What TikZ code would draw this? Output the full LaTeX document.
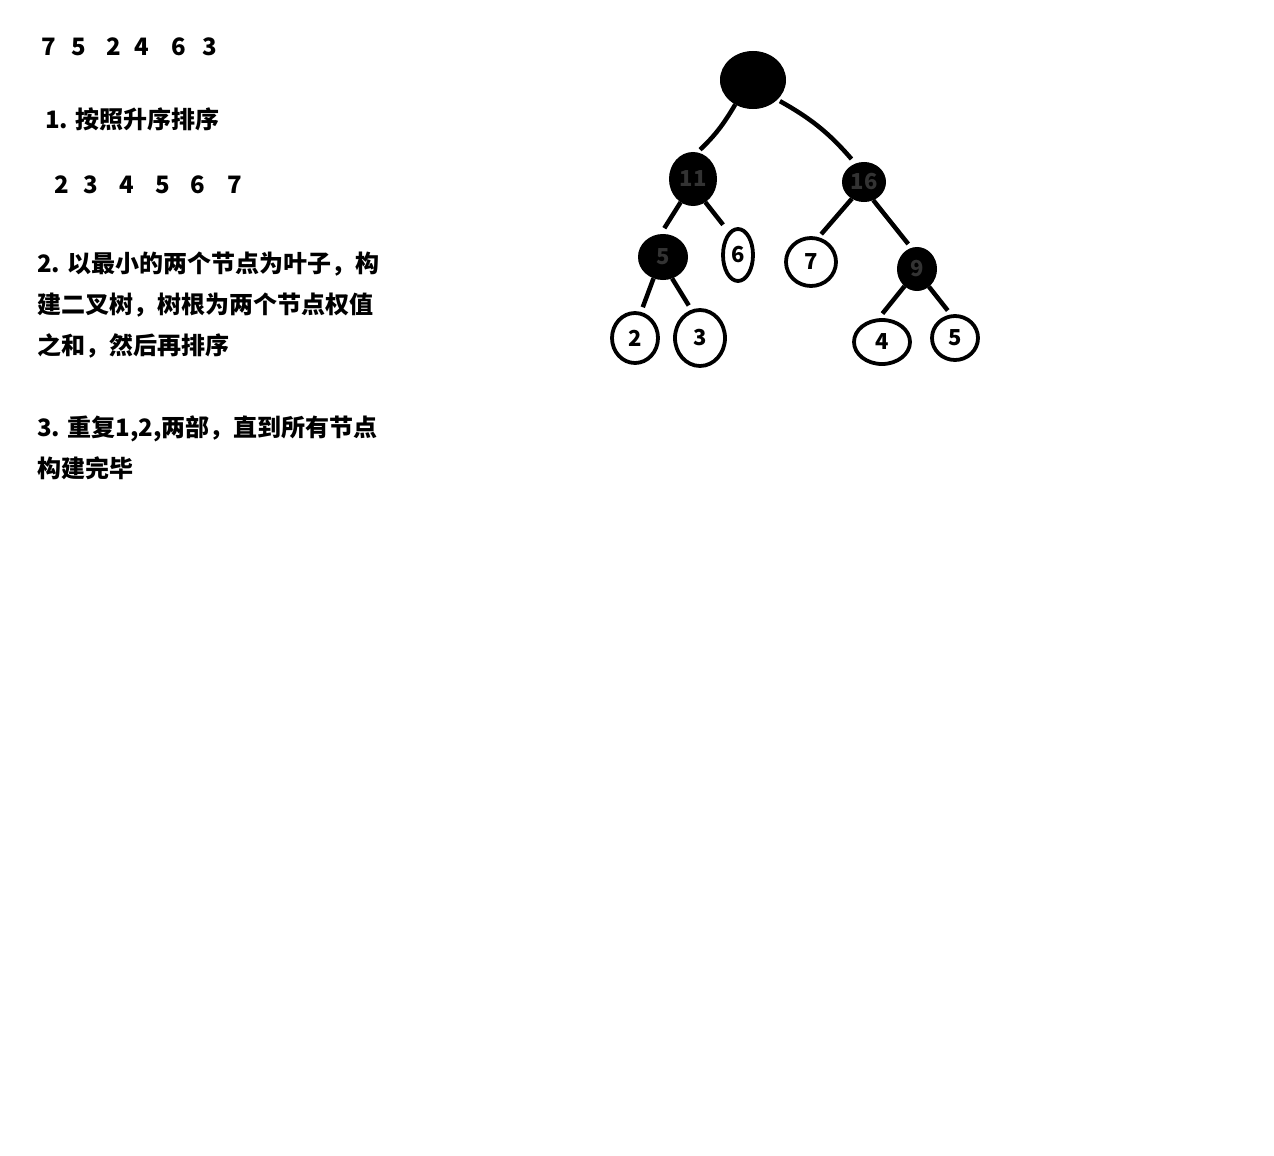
\documentclass[tikz,border=0pt]{standalone}
\usepackage{fontspec}
\setmainfont{Noto Sans CJK SC}
\usetikzlibrary{shapes.geometric}

\tikzset{
  txt/.style={anchor=base west, inner sep=0pt, font=\fontsize{24}{24}\selectfont\bfseries},
  leaf/.style={ellipse, draw, line width=3.8pt, inner sep=0pt, font=\fontsize{22}{22}\selectfont\bfseries},
  sum/.style={ellipse, draw, fill=black, line width=1pt, inner sep=0pt, text=black!80, font=\fontsize{22}{22}\selectfont\bfseries},
  edge/.style={line width=4.5pt}
}

\begin{document}
\begin{tikzpicture}[x=1pt, y=-1pt]
			\useasboundingbox (0,0) rectangle (1274,1156);
			% steps on the left
			\node [txt] (seq) at (41,56) {7\hspace{16pt}5\hspace{20pt}2\hspace{13pt}4\hspace{23pt}6\hspace{16pt}3};
			\node [txt] (step1) at (45,128) {1. 按照升序排序};
			\node [txt] (sorted) at (54,193) {2\hspace{15pt}3\hspace{21pt}4\hspace{21pt}5\hspace{21pt}6\hspace{22pt}7};
			\node [txt] (step2a) at (37,272) {2. 以最小的两个节点为叶子，构};
			\node [txt] (step2b) at (37,313) {建二叉树，树根为两个节点权值};
			\node [txt] (step2c) at (37,354) {之和，然后再排序};
			\node [txt] (step3a) at (37,436) {3. 重复1,2,两部，直到所有节点};
			\node [txt] (step3b) at (37,477) {构建完毕};
			% tree
			\node [sum, minimum width=65pt, minimum height=57pt] (root) at (753,80) {};
			\node [sum, minimum width=47pt, minimum height=53pt] (n11) at (693,179) {11};
			\node [sum, minimum width=43pt, minimum height=39pt] (n16) at (864,182) {16};
			\node [sum, minimum width=49pt, minimum height=45pt] (n5) at (663,257) {5};
			\node [leaf, minimum width=30pt, minimum height=52pt] (n6) at (738,255) {6};
			\node [leaf, minimum width=50pt, minimum height=48pt] (n7) at (811,262) {7};
			\node [sum, minimum width=39pt, minimum height=43pt] (n9) at (917,269) {9};
			\node [leaf, minimum width=46pt, minimum height=50pt] (n2) at (635,338) {2};
			\node [leaf, minimum width=50pt, minimum height=56pt] (n3) at (700,338) {3};
			\node [leaf, minimum width=56pt, minimum height=44pt] (n4) at (882,342) {4};
			\node [leaf, minimum width=46pt, minimum height=44pt] (n5b) at (955,338) {5};
			\draw [edge, shorten >=4pt] (root.234) to [bend left=8] (n11.81);
			\draw [edge, shorten <=3pt, shorten >=6pt] (root.321) to [bend left=10] (n16.115);
			\draw [edge, shorten >=7pt] (n11.242) -- (n5.96);
			\draw [edge, shorten >=9pt] (n11.298) -- (n6.112);
			\draw [edge, shorten >=4pt] (n16.234) -- (n7.73);
			\draw [edge, shorten >=5pt] (n16.297) -- (n9.105);
			\draw [edge, shorten >=5pt] (n5.246) -- (n2.77);
			\draw [edge, shorten >=5pt] (n5.293) -- (n3.107);
			\draw [edge, shorten >=6pt] (n9.234) -- (n4.98);
			\draw [edge, shorten >=5pt] (n9.304) -- (n5b.100);
		\end{tikzpicture}
\end{document}
